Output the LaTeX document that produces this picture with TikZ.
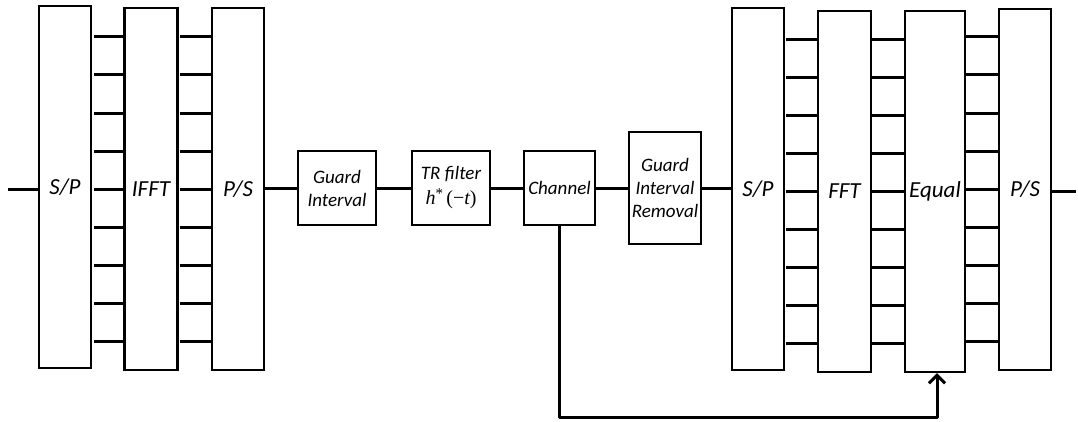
\documentclass[tikz,border=0pt]{standalone}
\usepackage{fontspec}
\setmainfont{Carlito}
\newfontfamily\mathlike{Liberation Serif}
\usetikzlibrary{arrows.meta}
\begin{document}
\begin{tikzpicture}[x=1pt,y=-1pt,
  blk/.style={draw, line width=2.4pt, inner sep=0pt, font=\fontsize{23}{26}\selectfont\itshape},
  sblk/.style={draw, line width=2.4pt, inner sep=0pt, align=center, font=\fontsize{19}{23}\selectfont\itshape},
  wire/.style={line width=3pt}]
\useasboundingbox (0,0) rectangle (1078,421);
% transmitter
\node[blk, minimum width=52pt, minimum height=362pt] (sp1) at (65,187) {S/P};
\node[blk, minimum width=53pt, minimum height=362pt] (ifft) at (151,189) {IFFT};
\node[blk, minimum width=52pt, minimum height=362pt] (ps1) at (238,189) {P/S};
% middle
\node[sblk, minimum width=78pt, minimum height=74pt] (gi) at (337,188) {Guard\\Interval};
\node[sblk, minimum width=78pt, minimum height=74pt, font=\fontsize{19}{25}\selectfont\itshape] (tr) at (451,188)
  {TR filter\\{\mathlike\fontsize{20}{25}\selectfont\itshape h\raisebox{0.3em}{\fontsize{15}{15}\selectfont\upshape*}\upshape\,(−\itshape t\upshape)}};
\node[sblk, minimum width=71pt, minimum height=74pt] (ch) at (559.5,188) {Channel};
\node[sblk, minimum width=72pt, minimum height=112pt] (gir) at (665,188) {Guard\\Interval\\Removal};
% receiver
\node[blk, minimum width=52pt, minimum height=362pt] (sp2) at (758,189) {S/P};
\node[blk, minimum width=53pt, minimum height=361pt] (fft) at (844.5,191.5) {FFT};
\node[blk, minimum width=60pt, minimum height=361pt] (eq) at (935,191.5) {Equal};
\node[blk, minimum width=52pt, minimum height=361pt] (ps2) at (1025,189.5) {P/S};
% parallel lines
\foreach \y in {36,74,113,151,189,227,265,303,341} {
  \draw[wire, shorten <=2pt] (sp1.east |- 0,\y) -- (ifft.west |- 0,\y);
  \draw[wire, shorten <=1pt] (ifft.east |- 0,\y) -- (ps1.west |- 0,\y);
  \draw[wire] (eq.east |- 0,\y) -- (ps2.west |- 0,\y);
}
\foreach \y in {39,77,115,153,191,229,267,305,343} {
  \draw[wire, shorten <=1pt] (sp2.east |- 0,\y) -- (fft.west |- 0,\y);
  \draw[wire] (fft.east |- 0,\y) -- (eq.west |- 0,\y);
}
% serial chain
\coordinate (in) at (8,189);
\coordinate (out) at (1076,191);
\draw[wire] (in) -- (sp1.west |- in);
\draw[wire] (ps1.east |- gi.west) -- (gi.west);
\draw[wire] (gi) -- (tr);
\draw[wire] (tr) -- (ch);
\draw[wire] (ch) -- (gir);
\draw[wire] (gir.east) -- (sp2.west |- gir.east);
\draw[wire] (ps2.east |- out) -- (out);
% feedback
\coordinate (corner) at (937,417);
\draw[wire, line join=round, -{Straight Barb[length=8pt,width=16pt]}] (ch.south) |- (corner) -- (corner |- eq.south);
\end{tikzpicture}
\end{document}
